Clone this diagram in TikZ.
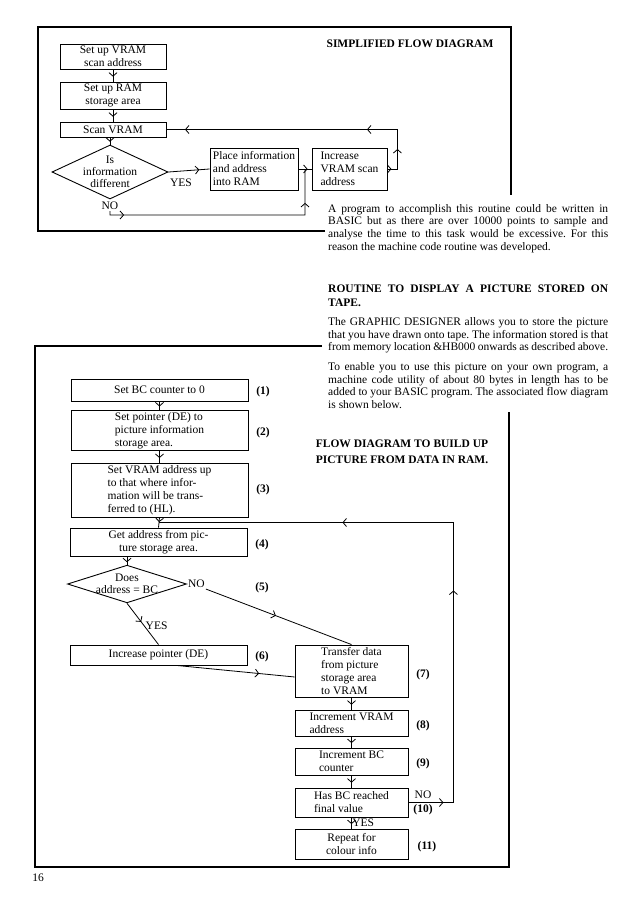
\documentclass[tikz,border=0pt]{standalone}
\usepackage{fontspec}
\setmainfont{Liberation Serif}
\usepackage{tikz}
\usetikzlibrary{shapes.geometric,arrows.meta,positioning,calc,decorations.markings}

\begin{document}
\begin{tikzpicture}[x=1pt, y=-1pt, >={Straight Barb[length=3.5pt,width=8pt]},
    box/.style={rectangle, draw, line width=0.9pt, font=\fontsize{11.5}{13}\selectfont, align=left, inner sep=2pt},
    cbox/.style={box, align=center},
    decide/.style={diamond, draw, line width=0.9pt, font=\fontsize{11.5}{12}\selectfont, align=center, inner sep=-1pt},
    num/.style={font=\fontsize{11.5}{13}\selectfont\bfseries, inner sep=1pt},
    tag/.style={font=\fontsize{11.5}{13}\selectfont, inner sep=1pt},
    flow/.style={line width=0.8pt},
    markat/.style={postaction={decorate, decoration={markings, mark=at position #1 with {\arrow{>}}}}},
    frame/.style={line width=1.2pt},
    blurb/.style={font=\fontsize{11.5}{12.7}\selectfont\frenchspacing, text width=280pt, align=justify, inner sep=0pt, anchor=north west},
    heading/.style={font=\fontsize{11.5}{16}\selectfont\bfseries, inner sep=0pt, align=center}]

    \useasboundingbox (0,0) rectangle (640,915);
    \fill[white] (0,0) rectangle (640,915);

    % Frames round the two diagrams
    \draw[frame] (325,231) -- (38,231) -- (38,27) -- (511,27) -- (511,195);
    \draw[frame] (322,346) -- (35,346) -- (35,867) -- (509,867) -- (509,412);

    % Simplified flow diagram
    \node (title1) [heading] at (410,44) {SIMPLIFIED FLOW DIAGRAM};
    \node (t1) [cbox, minimum width=106pt, minimum height=25pt] at (113,56.5) {Set up VRAM\\scan address};
    \node (t2) [cbox, minimum width=106pt, minimum height=25pt] at (113,95.5) {Set up RAM\\storage area};
    \node (t3) [cbox, minimum width=106pt, minimum height=15pt] at (113,129.5) {Scan VRAM};
    \node (td) [decide, aspect=2.15, minimum width=116pt] at (110,172) {Is\\information\\different};
    \node (t4) [box, minimum width=88pt, minimum height=42pt] at (254,169) {Place information\\and address\\into RAM};
    \node (t5) [box, minimum width=75pt, minimum height=42pt] at (349.5,169) {Increase\\VRAM scan\\address};
    \node (tyes) [tag] at (181,183) {YES};
    \node (tno) [tag] at (110,206) {NO};
    \coordinate (tj) at ($(t4.east)!0.5!(t5.west)$);
    \coordinate (tbend) at (305,215);

    \draw[flow, markat=0.6] (t1.south) -- (t2.north);
    \draw[flow, markat=0.6] (t2.south) -- (t3.north);
    \draw[flow, markat=0.6] (td.north |- t3.south) -- (td.north);
    \draw[flow, markat=0.75] (td.east) -- (t4.west);
    \draw[flow, markat=0.7] (t4.east) -- (t5.west);
    \draw[flow, markat=18pt, markat=211pt] (tno.south) |- (tbend) -- (tj);
    \draw[flow, markat=4pt, markat=30pt, markat=80pt, markat=262pt] (t5.east) -- ++(10,0) |- (t3.east);

    % Text beside and under the first diagram
    \node (para1) [blurb] at (328,204) {A program to accomplish this routine could be written in\linebreak
        BASIC but as there are over 10000 points to sample and\linebreak
        analyse the time to this task would be excessive. For this\linebreak
        reason the machine code routine was developed.};
    \node (head2) [blurb, font=\fontsize{11.5}{14}\selectfont\bfseries] at (328,284.3) {ROUTINE TO DISPLAY A PICTURE STORED ON\linebreak TAPE.};
    \node (para2) [blurb] at (328,317.3) {The GRAPHIC DESIGNER allows you to store the picture\linebreak
        that you have drawn onto tape. The information stored is that\linebreak
        from memory location \&HB000 onwards as described above.};
    \node (para3) [blurb] at (328,362.3) {To enable you to use this picture on your own program, a\linebreak
        machine code utility of about 80 bytes in length has to be\linebreak
        added to your BASIC program. The associated flow diagram\linebreak
        is shown below.};

    % Flow diagram to build up the picture
    \node (title2) [heading] at (402,451.5) {FLOW DIAGRAM TO BUILD UP\\PICTURE FROM DATA IN RAM.};
    \node (b1) [cbox, minimum width=177pt, minimum height=22pt] at (159.5,390) {Set BC counter to 0};
    \node (b2) [box, minimum width=177pt, minimum height=39pt] at (159.5,430.5) {Set pointer (DE) to\\picture information\\storage area.};
    \node (b3) [box, minimum width=177pt, minimum height=54pt] at (159.5,490) {Set VRAM address up\\to that where infor-\\mation will be trans-\\ferred to (HL).};
    \node (b4) [cbox, minimum width=177pt, minimum height=28pt] at (158.5,542) {Get address from pic-\\ture storage area.};
    \node (bd) [decide, aspect=3, minimum width=119pt] at (127,584) {Does\\address = BC};
    \node (b6) [cbox, minimum width=177pt, minimum height=20pt] at (158.5,655) {Increase pointer (DE)};
    \node (b7) [box, minimum width=113pt, minimum height=52pt] at (351.5,671) {Transfer data\\from picture\\storage area\\to VRAM};
    \node (b8) [box, minimum width=113pt, minimum height=26pt] at (351.5,723) {Increment VRAM\\address};
    \node (b9) [box, minimum width=113pt, minimum height=27pt] at (351.5,761.5) {Increment BC\\counter};
    \node (b10) [box, minimum width=113pt, minimum height=29pt] at (351.5,802.5) {Has BC reached\\final value};
    \node (b11) [cbox, minimum width=113pt, minimum height=30pt] at (351.5,844) {Repeat for\\colour info};

    \node (n1) [num] at (263,392) {(1)};
    \node (n2) [num] at (263,433) {(2)};
    \node (n3) [num] at (263,490) {(3)};
    \node (n4) [num] at (262,545) {(4)};
    \node (n5) [num] at (262,588) {(5)};
    \node (n6) [num] at (262,657) {(6)};
    \node (n7) [num] at (423,675) {(7)};
    \node (n8) [num] at (423,726) {(8)};
    \node (n9) [num] at (423,764) {(9)};
    \node (n10) [num] at (423,810) {(10)};
    \node (n11) [num] at (427,847) {(11)};
    \node (bno) [tag, anchor=west] at (bd.east) {NO};
    \node (b10no) [tag] at (423,795) {NO};
    \coordinate (bj) at ($(b3.south)!0.5!(b4.north)$);

    \draw[flow, markat=0.6] (b1.south) -- (b2.north);
    \draw[flow, markat=0.6] (b2.south) -- (b3.north);
    \draw[flow, markat=0.45] (b3.south) -- (b4.north);
    \draw[flow, markat=0.7] (bd.north |- b4.south) -- (bd.north);
    \draw[flow, markat=0.45] (bd.south) -- (b6.north) node (byes) [tag, right, pos=0.55] {YES};
    \draw[flow, markat=0.48] (bno.south east) -- (b7.north);
    \draw[flow, markat=0.7] (b6.-30) -- (b7.-174);
    \draw[flow, markat=0.6] (b7.south) -- (b8.north);
    \draw[flow, markat=0.6] (b8.south) -- (b9.north);
    \draw[flow, markat=0.6] (b9.south) -- (b10.north);
    \draw[flow, markat=0.6] (b10.south) -- (b11.north) node (b10yes) [tag, right, pos=0.45, inner sep=0.5pt] {YES};
    \draw[flow, markat=35pt, markat=257pt, markat=436pt] (b10.east) -- ++(45,0) |- (bj);

    \node (pageno) [tag] at (38,878) {16};
\end{tikzpicture}
\end{document}
